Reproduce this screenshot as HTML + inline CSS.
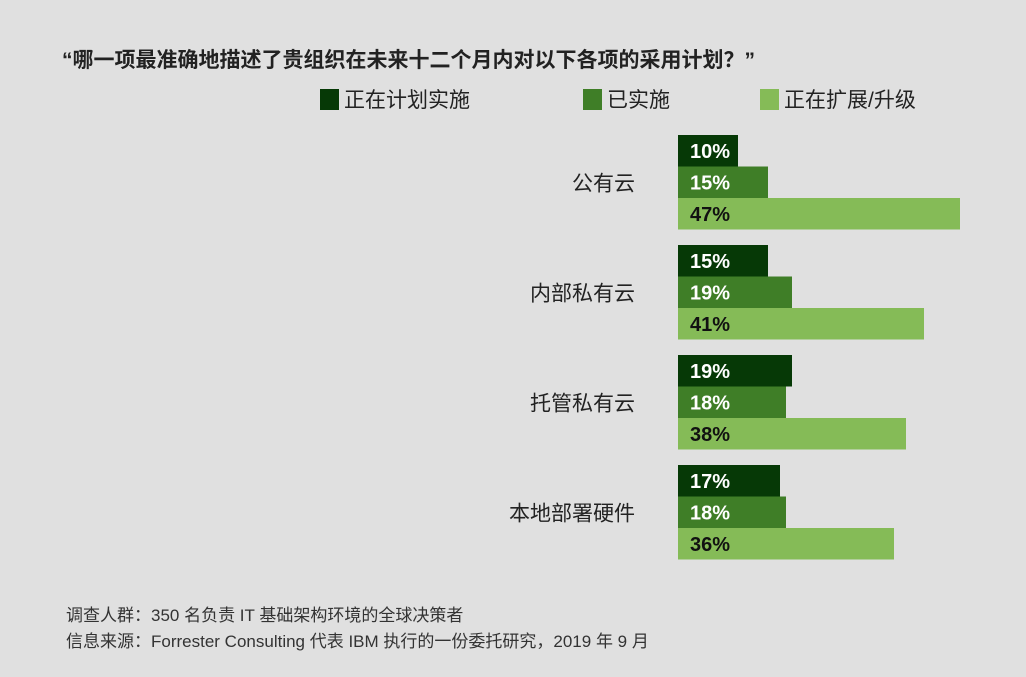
<!DOCTYPE html>
<html><head><meta charset="utf-8"><style>
body{margin:0;width:1026px;height:677px;background:#e0e0e0;font-family:"Liberation Sans","Noto Sans CJK SC",sans-serif;overflow:hidden;position:relative;color:#222}
.t{position:absolute;white-space:nowrap}
</style></head><body>
<div class="t" style="left:62px;top:44px;font-size:21px;font-weight:bold;color:#222">“哪一项最准确地描述了贵组织在未来十二个月内对以下各项的采用计划？”</div>
<svg id="c" width="1026" height="677" style="position:absolute;left:0;top:0"></svg>
<div class="t" style="left:66px;top:601px;font-size:17px;color:#333">调查人群：350 名负责 IT 基础架构环境的全球决策者</div>
<div class="t" style="left:66px;top:627px;font-size:17px;color:#333">信息来源：Forrester Consulting 代表 IBM 执行的一份委托研究，2019 年 9 月</div>
<script>
const categories=["公有云","内部私有云","托管私有云","本地部署硬件"];
const seriesNames=["正在计划实施","已实施","正在扩展/升级"];
const planning=[10,15,19,17];
const implemented=[15,19,18,18];
const expanding=[47,41,38,36];
const colors=["#063906","#3f7e27","#85bb57"];
const labelColors=["#fff","#fff","#111"];
const svg=document.getElementById('c');
const NS="http://www.w3.org/2000/svg";
const x0=678, pxPer=6, groupTop=135, groupStep=110, barH=31.5;
const xs=v=>v*pxPer;
function mk(t,a){const e=document.createElementNS(NS,t);for(const k in a)e.setAttribute(k,a[k]);svg.appendChild(e);return e;}
const legX=[320,583,760];
seriesNames.forEach((n,i)=>{
  const r=mk('rect',{x:legX[i],y:89,width:19,height:21,fill:colors[i]});
  
  
  const t=mk('text',{x:legX[i]+24,y:107,'font-size':21,fill:'#222','font-family':'"Liberation Sans","Noto Sans CJK SC",sans-serif'});
  t.textContent=n;
  
  
});
const series=[planning,implemented,expanding];
categories.forEach((c,g)=>{
  const top=groupTop+g*groupStep;
  const lab=mk('text',{x:635,y:top+barH*1.5+8,'text-anchor':'end','font-size':21,fill:'#222','font-family':'"Liberation Sans","Noto Sans CJK SC",sans-serif'});
  lab.textContent=c;
  
  
  series.forEach((s,i)=>{
    const y=top+i*barH;
    const r=mk('rect',{x:x0,y:y,width:xs(s[g]),height:barH,fill:colors[i]});
    
    
    const t=mk('text',{x:x0+12,y:y+barH/2+7,'font-size':20,'font-weight':'bold',fill:labelColors[i],'font-family':'"Liberation Sans",sans-serif'});
    t.textContent=s[g]+'%';
    
    
  });
});
</script>
</body></html>
